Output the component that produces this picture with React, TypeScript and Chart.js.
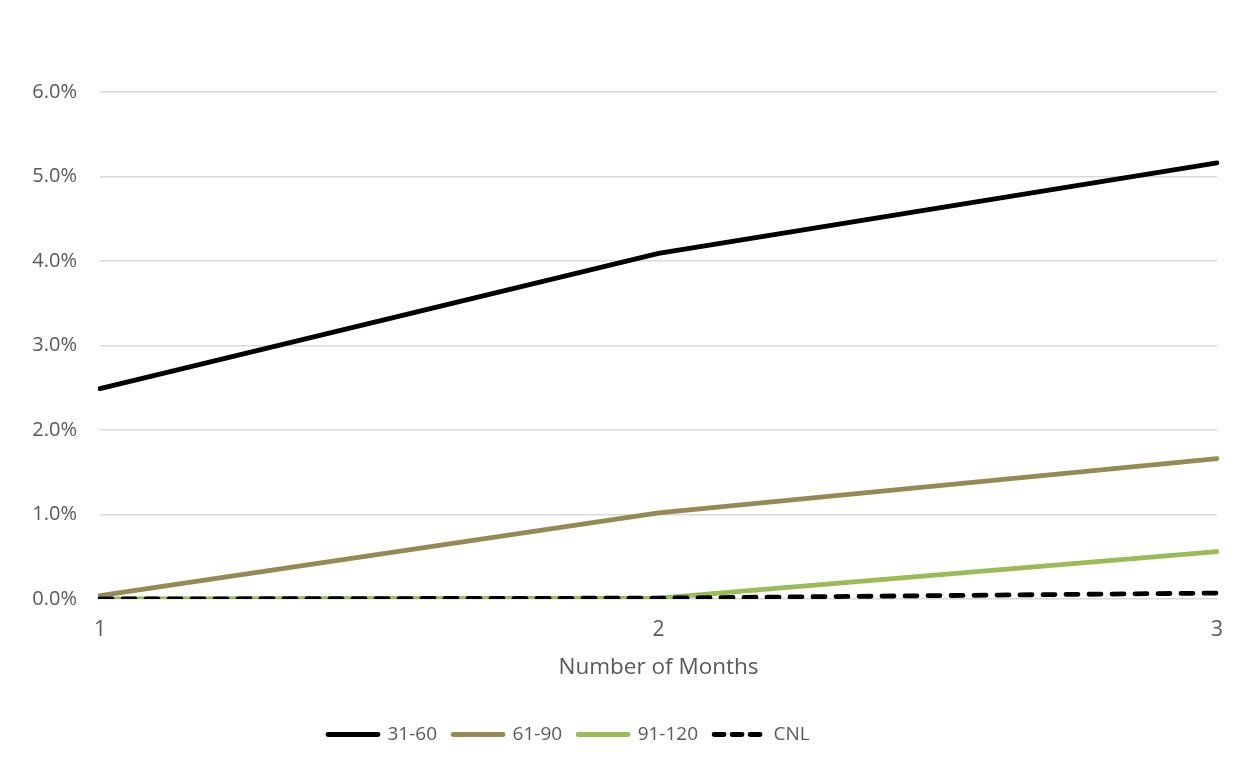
import React, { useEffect, useRef } from "react";
import { Chart, registerables } from "chart.js";

Chart.register(...registerables);

const months = ["1", "2", "3"];
const s3160 = [2.49, 4.09, 5.16];
const s6190 = [0.04, 1.02, 1.66];
const s91120 = [0.0, 0.01, 0.56];
const cnl = [0.0, 0.01, 0.07];
const yTicks = [0, 1, 2, 3, 4, 5, 6];

const FONT = "'Open Sans', sans-serif";
const TXT = "#595959";

const legendShift = {
  id: "legendShift",
  afterLayout(chart: any) {
    const lg = chart.legend;
    if (lg) {
      const w = lg.right - lg.left;
      lg.left = 304;
      lg.right = 304 + w;
    }
  },
};

export default function App() {
  const ref = useRef<HTMLCanvasElement | null>(null);
  useEffect(() => {
    if (!ref.current) return;
    const chart = new Chart(ref.current, {
      type: "line",
      data: {
        labels: months,
        datasets: [
          { label: "31-60", data: s3160, order: 3, borderColor: "#000000", backgroundColor: "#000000", borderWidth: 4.8, pointRadius: 0, borderCapStyle: "round" },
          { label: "61-90", data: s6190, order: 2, borderColor: "#948A54", backgroundColor: "#948A54", borderWidth: 4.8, pointRadius: 0, borderCapStyle: "round" },
          { label: "91-120", data: s91120, order: 1, borderColor: "#9BBB59", backgroundColor: "#9BBB59", borderWidth: 4.8, pointRadius: 0, borderCapStyle: "round" },
          { label: "CNL", data: cnl, order: 0, borderColor: "#000000", backgroundColor: "#000000", borderWidth: 4.8, pointRadius: 0, borderDash: [12, 11], borderCapStyle: "round" },
        ],
      },
      plugins: [legendShift],
      options: {
        animation: false,
        responsive: false,
        maintainAspectRatio: false,
        layout: { padding: { top: 84, right: 28, left: 0, bottom: 17 } },
        plugins: {
          tooltip: { enabled: false },
          legend: {
            position: "bottom",
            align: "start",
            title: { display: true, text: "", font: { size: 10 }, padding: { top: 8, bottom: 8 } },
            labels: {
              usePointStyle: true,
              pointStyle: "line",
              pointStyleWidth: 50,
              boxWidth: 50,
              boxHeight: 16,
              padding: 16,
              color: TXT,
              font: { family: FONT, size: 19 },
              sort: (a: any, b: any) => a.datasetIndex - b.datasetIndex,
              generateLabels: (c: any) =>
                Chart.defaults.plugins.legend.labels.generateLabels(c).map((l: any) => {
                  const ds: any = c.data.datasets[l.datasetIndex];
                  return {
                    ...l,
                    strokeStyle: ds.borderColor,
                    fillStyle: ds.borderColor,
                    lineWidth: 4.8,
                    lineCap: "round",
                    lineDash: ds.borderDash ? [10, 8] : [],
                    pointStyle: "line",
                  };
                }),
            },
          },
        },
        scales: {
          x: {
            type: "category",
            offset: false,
            grid: { display: false, drawTicks: false },
            border: { display: false },
            ticks: { color: TXT, font: { family: FONT, size: 21 }, padding: 18, maxRotation: 0 },
            title: { display: true, text: "Number of Months", color: TXT, font: { family: FONT, size: 22.5 }, padding: { top: 8, bottom: 0 } },
            afterFit: (s: any) => { s.height = 82; },
          },
          y: {
            min: 0,
            max: 6,
            afterBuildTicks: (s: any) => { s.ticks = yTicks.map((v) => ({ value: v })); },
            grid: { color: "#d9d9d9", lineWidth: 1.5, drawTicks: false },
            border: { display: false },
            ticks: { color: TXT, font: { family: FONT, size: 20 }, padding: 23, callback: (v: any) => Number(v).toFixed(1) + "%" },
            afterFit: (s: any) => { s.width = 92; },
          },
        },
      },
    });
    return () => chart.destroy();
  }, []);
  return (
    <div style={{ width: 1238, height: 764, borderTop: "1px solid #d9d9d9", borderLeft: "1px solid #d9d9d9", marginLeft: -1, marginTop: -1, overflow: "hidden" }}>
      <canvas ref={ref} width={1237} height={763} style={{ display: "block" }} />
    </div>
  );
}
